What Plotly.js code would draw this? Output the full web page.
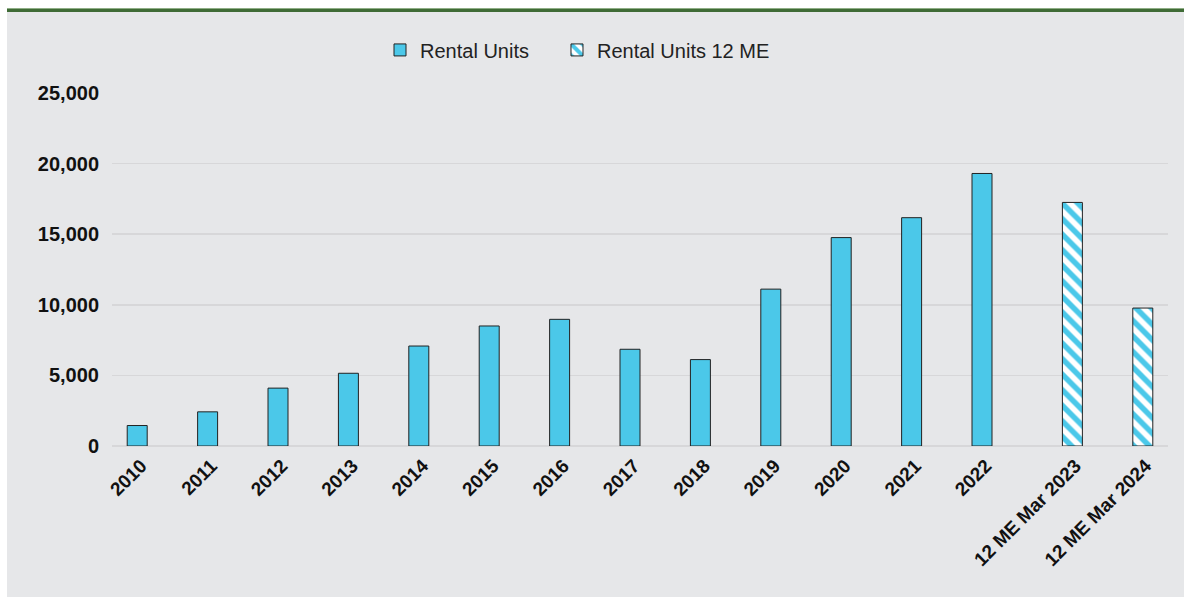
<!DOCTYPE html>
<html>
<head>
<meta charset="utf-8">
<script src="https://cdn.plot.ly/plotly-3.0.1.min.js"></script>
<style>
  body { margin: 0; background: #ffffff; width: 1184px; height: 597px; overflow: hidden; position: relative; }
  #rule { position: absolute; left: 7px; top: 8px; width: 1177px; height: 3px; background: #3f6b36; border-top: 1px solid #8fae86; }
  #chart { position: absolute; left: 7px; top: 12px; width: 1177px; height: 585px; }
</style>
</head>
<body>
<div id="rule"></div>
<div id="chart"></div>
<script>
'use strict'
// categories on the x axis
let years = ['2010', '2011', '2012', '2013', '2014', '2015', '2016', '2017', '2018', '2019', '2020', '2021', '2022'];
let rentalUnits = [1450, 2420, 4100, 5150, 7080, 8500, 8970, 6850, 6120, 11110, 14760, 16170, 19300];
// trailing twelve month figures
let meLabels = ['12 ME Mar 2023', '12 ME Mar 2024'];
let rentalUnits12ME = [17250, 9770];

let yTicks = [0, 5000, 10000, 15000, 20000, 25000];
let allCats = years.concat(meLabels);

let barBlue = '#4bc8e9';
let outline = '#222222';
// each series keeps its own half of the cluster, like the original chart
let barW = 0.284;

let traces = [
  {
    x: years, y: rentalUnits, type: 'bar', name: 'Rental Units',
    width: barW, offset: -barW, legend: 'legend',
    marker: {color: barBlue, line: {color: outline, width: 1}}
  },
  {
    x: meLabels, y: rentalUnits12ME, type: 'bar', name: 'Rental Units 12 ME',
    xaxis: 'x2',
    width: barW, offset: 0, legend: 'legend2',
    marker: {
      color: barBlue,
      line: {color: outline, width: 1},
      pattern: {shape: '\\', bgcolor: '#ffffff', fgcolor: barBlue, size: 11, solidity: 0.5}
    }
  }
];

let legendStyle = {
  orientation: 'h', xanchor: 'left', y: 1.122, yanchor: 'middle',
  font: {size: 20, color: '#222222'}, bgcolor: 'rgba(0,0,0,0)'
};

let tickFont = {size: 19, family: 'Liberation Sans, Arial, sans-serif', weight: 'bold', color: '#111111'};

let layout = {
  width: 1177, height: 585,
  margin: {l: 105, r: 16, t: 81, b: 151},
  paper_bgcolor: '#e6e7e9',
  plot_bgcolor: '#e6e7e9',
  font: {family: 'Liberation Sans, Arial, sans-serif', color: '#111111'},
  barmode: 'overlay',
  showlegend: true,
  legend: Object.assign({x: 0.2538}, legendStyle),
  legend2: Object.assign({x: 0.4214}, legendStyle),
  xaxis: {
    type: 'category',
    categoryorder: 'array', categoryarray: allCats,
    range: [-0.5, 14.5],
    tickvals: years,
    tickangle: -45, tickfont: tickFont,
    ticklabelshift: -6, ticklabelstandoff: 4,
    showgrid: false, zeroline: false, showline: false, ticks: ''
  },
  // second category axis only carries the two long labels, which sit further right
  xaxis2: {
    type: 'category', overlaying: 'x', anchor: 'y', side: 'bottom',
    categoryorder: 'array', categoryarray: allCats,
    range: [-0.5, 14.5],
    tickvals: meLabels,
    tickangle: -45, tickfont: tickFont,
    ticklabelshift: 13, ticklabelstandoff: 4,
    showgrid: false, zeroline: false, showline: false, ticks: ''
  },
  yaxis: {
    range: [0, 25000],
    tickvals: yTicks,
    tickformat: ',d',
    tickfont: {size: 20, family: 'Liberation Sans, Arial, sans-serif', weight: 'bold', color: '#111111'},
    ticklabelstandoff: 12,
    showgrid: true, gridcolor: '#d7d7d9', gridwidth: 1.5,
    zeroline: true, zerolinecolor: '#d7d7d9', zerolinewidth: 1.5,
    showline: false, ticks: ''
  }
};

let div = document.getElementById('chart');
Plotly.newPlot(div, traces, layout, {displayModeBar: false, staticPlot: true});
</script>
</body>
</html>
